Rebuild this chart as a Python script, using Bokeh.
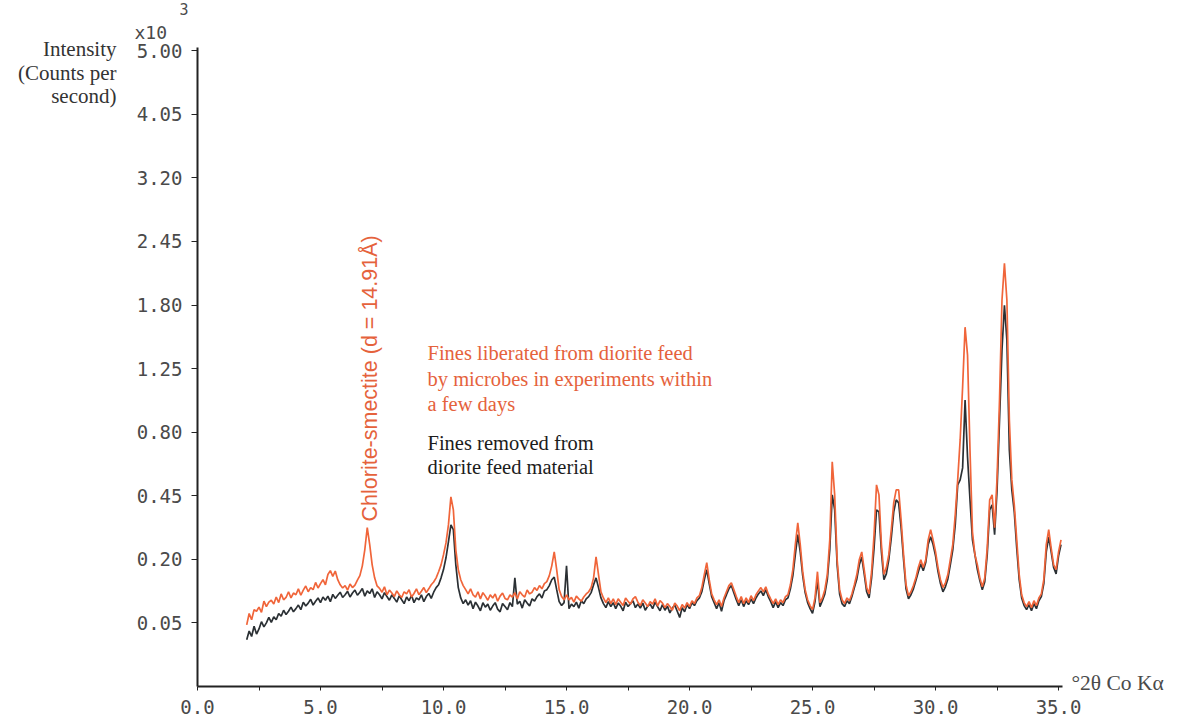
import math
from bokeh.plotting import figure
from bokeh.models import Range1d, FixedTicker, Label, LinearAxis, Title
from bokeh.embed import file_html
from bokeh.resources import INLINE

# ---- data: XRD traces, counts per second, sampled every 0.1 deg 2-theta from 2.0 ----
two_theta_start = 2.0
two_theta_step = 0.1

# Fines liberated from diorite feed by microbes (orange)
orange_cps = [
    47, 66, 55, 73, 70, 78, 68, 90, 79, 88,
    92, 84, 99, 87, 106, 93, 98, 111, 97, 108,
    104, 118, 103, 115, 125, 111, 121, 116, 134, 120,
    131, 141, 128, 155, 166, 150, 165, 141, 128, 120,
    126, 115, 130, 121, 127, 140, 152, 180, 231, 312,
    249, 183, 146, 125, 119, 110, 123, 104, 115, 108,
    100, 113, 104, 98, 111, 106, 116, 99, 107, 118,
    104, 112, 121, 109, 118, 128, 135, 146, 163, 183,
    215, 255, 323, 445, 386, 231, 169, 141, 126, 116,
    106, 118, 104, 99, 111, 95, 109, 101, 92, 104,
    97, 106, 90, 101, 108, 96, 93, 104, 99, 109,
    95, 111, 104, 99, 115, 106, 110, 121, 114, 126,
    118, 131, 136, 152, 180, 224, 169, 116, 100, 93,
    104, 93, 98, 88, 101, 95, 90, 99, 106, 111,
    121, 146, 208, 155, 111, 97, 87, 97, 85, 95,
    83, 95, 88, 81, 97, 90, 84, 95, 100, 88,
    81, 93, 86, 79, 89, 84, 95, 80, 91, 86,
    77, 85, 79, 72, 86, 80, 71, 83, 76, 87,
    79, 91, 85, 97, 102, 121, 155, 190, 141, 106,
    93, 83, 93, 79, 97, 111, 126, 133, 116, 100,
    87, 100, 85, 97, 87, 102, 91, 104, 113, 121,
    111, 123, 106, 95, 85, 95, 83, 93, 87, 100,
    104, 128, 169, 249, 331, 249, 163, 116, 93, 81,
    73, 97, 163, 87, 97, 116, 155, 266, 624, 454,
    199, 116, 93, 85, 97, 91, 106, 128, 155, 199,
    224, 169, 121, 106, 163, 285, 503, 454, 249, 155,
    175, 215, 304, 417, 478, 478, 344, 215, 128, 102,
    111, 126, 146, 175, 199, 175, 199, 266, 304, 266,
    224, 175, 141, 121, 133, 155, 199, 249, 365, 528,
    752, 1109, 1597, 1358, 692, 296, 215, 183, 146, 123,
    146, 237, 431, 454, 312, 538, 1015, 1845, 2215, 1845,
    878, 528, 408, 266, 155, 104, 87, 79, 89, 77,
    91, 81, 97, 106, 141, 249, 304, 237, 183, 169,
    224, 266,
]

# Fines removed from diorite feed material (black)
black_cps = [
    27, 38, 31, 45, 34, 41, 52, 44, 50, 59,
    51, 60, 55, 66, 61, 72, 64, 70, 78, 69,
    75, 82, 73, 88, 80, 86, 94, 82, 90, 97,
    87, 99, 92, 101, 89, 105, 96, 103, 110, 98,
    104, 112, 99, 108, 115, 103, 110, 119, 101, 113,
    107, 118, 98, 111, 104, 95, 109, 100, 92, 104,
    96, 88, 102, 93, 85, 99, 91, 103, 87, 97,
    93, 104, 89, 100, 107, 96, 110, 121, 128, 146,
    169, 205, 259, 323, 304, 183, 121, 97, 85, 93,
    82, 91, 75, 88, 80, 71, 87, 78, 84, 72,
    80, 87, 74, 69, 85, 79, 73, 87, 79, 146,
    84, 90, 76, 93, 86, 80, 95, 90, 100, 106,
    97, 113, 116, 126, 141, 148, 116, 89, 81, 87,
    180, 75, 84, 79, 88, 76, 91, 85, 95, 100,
    109, 128, 146, 121, 97, 85, 77, 89, 79, 87,
    75, 86, 80, 71, 88, 79, 85, 91, 77, 84,
    76, 86, 72, 80, 84, 75, 88, 79, 71, 83,
    72, 80, 67, 76, 82, 70, 59, 77, 69, 83,
    75, 87, 81, 91, 97, 111, 141, 169, 131, 100,
    87, 75, 87, 70, 91, 104, 118, 126, 109, 93,
    81, 93, 79, 91, 83, 95, 85, 97, 106, 113,
    102, 116, 100, 89, 77, 89, 77, 87, 81, 93,
    97, 118, 152, 215, 285, 224, 152, 109, 87, 75,
    66, 89, 141, 79, 91, 106, 141, 231, 454, 386,
    183, 106, 85, 79, 91, 85, 100, 121, 143, 183,
    207, 157, 111, 97, 146, 237, 386, 377, 224, 141,
    157, 199, 273, 377, 431, 417, 312, 199, 118, 95,
    104, 118, 139, 163, 186, 166, 190, 249, 277, 249,
    211, 163, 131, 111, 123, 143, 183, 231, 323, 503,
    528, 591, 1015, 651, 431, 266, 215, 169, 139, 116,
    136, 215, 386, 408, 285, 478, 878, 1400, 1798, 1484,
    692, 478, 377, 237, 141, 97, 81, 73, 83, 71,
    85, 75, 91, 100, 131, 224, 277, 224, 175, 157,
    211, 249,
]

two_theta = [round(two_theta_start + two_theta_step * i, 1) for i in range(len(orange_cps))]

# y axis (x10^3 counts per second), square-root scale
y_tick_values = [0.05, 0.20, 0.45, 0.80, 1.25, 1.80, 2.45, 3.20, 4.05, 5.00]
y_tick_labels = ["0.05", "0.20", "0.45", "0.80", "1.25", "1.80", "2.45", "3.20", "4.05", "5.00"]
x_tick_values = [0, 5, 10, 15, 20, 25, 30, 35]
x_tick_labels = ["0.0", "5.0", "10.0", "15.0", "20.0", "25.0", "30.0", "35.0"]
x_minor_values = [2.5, 7.5, 12.5, 17.5, 22.5, 27.5, 32.5]
y_title_lines = ["Intensity", "(Counts per", "second)"]
x_title = "\u00b02\u03b8 Co K\u03b1"


def sqrt_scale(kcps):
    return math.sqrt(kcps / 0.05)


orange_y = [sqrt_scale(c / 1000.0) for c in orange_cps]
black_y = [sqrt_scale(c / 1000.0) for c in black_cps]
y_ticks = [int(round(sqrt_scale(v))) for v in y_tick_values]

ORANGE = "#f0653a"
ORANGE_TXT = "#e5623c"
DARK = "#2b3034"
GREY = "#4a4a4a"
MONO = "DejaVu Sans Mono"
SERIF = "Liberation Serif"

p = figure(width=1179, height=724,
           x_range=Range1d(0, 35.16), y_range=Range1d(0, 10.05),
           output_backend="svg", toolbar_location=None,
           min_border_left=197, min_border_right=117,
           min_border_top=47, min_border_bottom=38)
p.background_fill_color = "white"
p.border_fill_color = "white"
p.outline_line_color = None
p.xgrid.visible = False
p.ygrid.visible = False

# page-row helper range (top of frame = row 47, bottom = row 686) for margin texts
p.extra_y_ranges = {"rows": Range1d(start=686, end=47)}

p.line(two_theta, black_y, line_color=DARK, line_width=1.7)
p.line(two_theta, orange_y, line_color=ORANGE, line_width=1.7)

# axes
xa = p.xaxis[0]
xa.ticker = FixedTicker(ticks=x_tick_values, minor_ticks=x_minor_values)
xa.major_label_overrides = {t: l for t, l in zip(x_tick_values, x_tick_labels)}
xa.axis_line_color = "#222222"
xa.axis_line_width = 2
xa.major_tick_line_color = "#222222"
xa.minor_tick_line_color = "#222222"
xa.major_tick_in = 0
xa.major_tick_out = 4
xa.minor_tick_in = 0
xa.minor_tick_out = 4
xa.major_label_standoff = 9
xa.major_label_text_font = MONO
xa.major_label_text_font_size = "19px"
xa.major_label_text_color = GREY

ya = p.yaxis[0]
ya.ticker = FixedTicker(ticks=y_ticks, minor_ticks=[])
ya.major_label_overrides = {t: l for t, l in zip(y_ticks, y_tick_labels)}
ya.axis_line_color = "#222222"
ya.axis_line_width = 2
ya.major_tick_line_color = "#222222"
ya.major_tick_in = 0
ya.major_tick_out = 6
ya.minor_tick_line_color = None
ya.major_label_standoff = 9
ya.major_label_text_font = MONO
ya.major_label_text_font_size = "19px"
ya.major_label_text_color = GREY


def text_axis(rows, labels, font_size, color, standoff):
    ax = LinearAxis(y_range_name="rows",
                    ticker=FixedTicker(ticks=rows, minor_ticks=[]),
                    major_label_overrides={r: t for r, t in zip(rows, labels)},
                    axis_line_color=None, major_tick_line_color=None,
                    minor_tick_line_color=None, major_tick_in=0, major_tick_out=0,
                    major_label_standoff=standoff,
                    major_label_text_font=SERIF,
                    major_label_text_font_size=font_size,
                    major_label_text_color=color)
    return ax


# y axis title block (left margin) and x axis title (right margin)
p.add_layout(text_axis([48, 72, 95], y_title_lines, "21px", "#333333", 17), "left")
p.add_layout(text_axis([682], [x_title], "21.5px", GREY, 9), "right")

# "x10^3" multiplier above the y axis
p.add_layout(Title(text="x10", align="left", offset=-63, standoff=10,
                   text_font=MONO, text_font_size="18px", text_font_style="normal",
                   text_line_height=0.6, text_color=GREY), "above")
p.add_layout(Title(text="3", align="left", offset=-18, standoff=0,
                   text_font=MONO, text_font_size="15px", text_font_style="normal",
                   text_line_height=1.8, text_color=GREY), "above")


def px_x(px):
    return (px - 197) / 24.6


def px_y(py):
    return (686 - py) / 63.58


def add_label(text, x, y, color=DARK, font=SERIF, size="20px", align="left",
              baseline="middle", angle=0.0):
    p.add_layout(Label(x=x, y=y, text=text, text_color=color, text_font=font,
                       text_font_size=size, text_align=align,
                       text_baseline=baseline, angle=angle))


# annotations
add_label("Chlorite-smectite (d = 14.91\u00c5)", px_x(369), px_y(521), color=ORANGE_TXT,
          font="Liberation Sans", size="21.5px", angle=math.pi / 2)
add_label("Fines liberated from diorite feed", px_x(427), px_y(353), color=ORANGE_TXT, size="20.5px")
add_label("by microbes in experiments within", px_x(427), px_y(379), color=ORANGE_TXT, size="20.5px")
add_label("a few days", px_x(427), px_y(404), color=ORANGE_TXT, size="20.5px")
add_label("Fines removed from", px_x(427), px_y(443), color="#1c1c1c", size="20.5px")
add_label("diorite feed material", px_x(427), px_y(467), color="#1c1c1c", size="20.5px")

open("out.html", "w").write(file_html(p, INLINE))
